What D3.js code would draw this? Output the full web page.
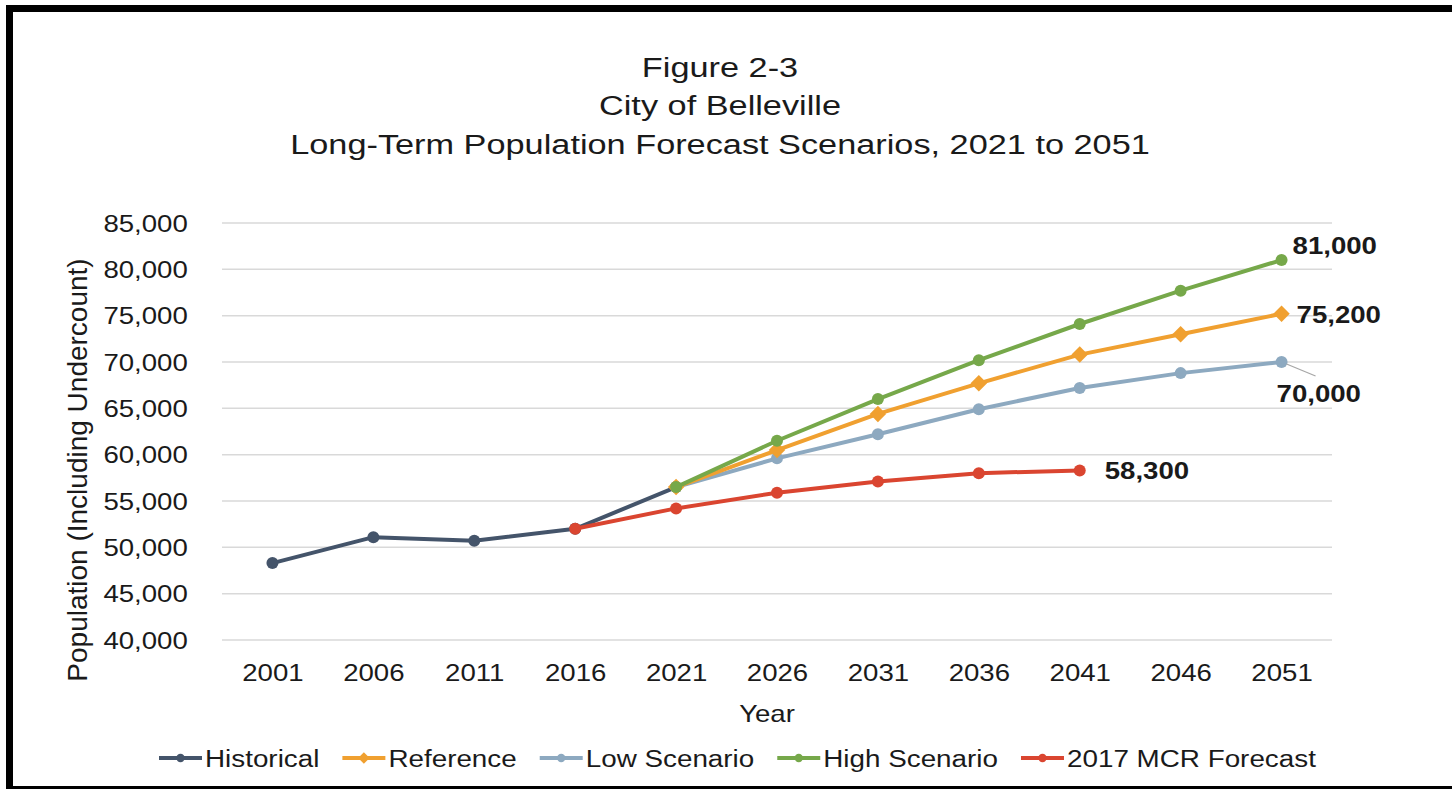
<!DOCTYPE html>
<html>
<head>
<meta charset="utf-8">
<script src="https://cdn.jsdelivr.net/npm/d3@7"></script>
<style>
  html, body { margin: 0; padding: 0; background: #fff; }
  svg { display: block; font-family: "Liberation Sans", Arial, sans-serif; }
</style>
</head>
<body>
<svg id="chart" width="1452" height="789"></svg>
<script>
// ---------------- DATA ----------------
const years = ["2001","2006","2011","2016","2021","2026","2031","2036","2041","2046","2051"];
const yTicks = [40000,45000,50000,55000,60000,65000,70000,75000,80000,85000];

const historicalYears = ["2001","2006","2011","2016","2021"];
const historicalValues = [48300, 51100, 50700, 52000, 56500];

const scenarioYears = ["2021","2026","2031","2036","2041","2046","2051"];
const referenceValues = [56500, 60500, 64400, 67700, 70800, 73000, 75200];
const lowValues       = [56500, 59600, 62200, 64900, 67200, 68800, 70000];
const highValues      = [56500, 61500, 66000, 70200, 74100, 77700, 81000];

const mcrYears  = ["2016","2021","2026","2031","2036","2041"];
const mcrValues = [52000, 54200, 55900, 57100, 58000, 58300];

const seriesNames = ["Historical","Reference","Low Scenario","High Scenario","2017 MCR Forecast"];
const titleLines = ["Figure 2-3","City of Belleville","Long-Term Population Forecast Scenarios, 2021 to 2051"];

// ---------------- SETUP ----------------
const SX = 1.2; // horizontal stretch of the reference's lettering
const svg = d3.select("#chart");
const fmt = d3.format(",");

const x = d3.scalePoint().domain(years).range([222, 1332]).padding(0.5);
const y = d3.scaleLinear().domain([40000, 85000]).range([640, 223]);

const colors = {
  "Historical": "#44546A",
  "Reference": "#F0A030",
  "Low Scenario": "#8DA9C0",
  "High Scenario": "#76A84A",
  "2017 MCR Forecast": "#DA4530"
};
const shapes = {
  "Historical": "circle", "Reference": "diamond", "Low Scenario": "circle",
  "High Scenario": "circle", "2017 MCR Forecast": "circle"
};

function stext(g, tx, ty, str, opts) {
  opts = opts || {};
  const t = g.append("text")
    .attr("transform", `translate(${tx},${ty}) scale(${opts.sx || SX},1)`)
    .attr("text-anchor", opts.anchor || "start")
    .attr("font-size", opts.size || 23)
    .attr("font-weight", opts.weight || "normal")
    .attr("fill", opts.fill || "#1a1a1a")
    .text(str);
  return t;
}

// Frame
svg.append("rect").attr("x", 6).attr("y", 5).attr("width", 7).attr("height", 784).attr("fill", "#000");
svg.append("rect").attr("x", 6).attr("y", 5).attr("width", 1446).attr("height", 7).attr("fill", "#000");
svg.append("rect").attr("x", 6).attr("y", 786).attr("width", 1446).attr("height", 3).attr("fill", "#000");

// Title
const titleY = [77, 115, 154];
titleLines.forEach((s, i) => stext(svg, 720, titleY[i], s, {anchor: "middle", size: 28, sx: 1.225}));

// Gridlines
svg.append("g").selectAll("line").data(yTicks).join("line")
  .attr("x1", 222).attr("x2", 1332)
  .attr("y1", d => y(d)).attr("y2", d => y(d))
  .attr("stroke", "#D9D9D9").attr("stroke-width", 1.5);

// Y axis
const yAxis = svg.append("g").attr("transform", "translate(222,0)")
  .call(d3.axisLeft(y).tickValues(yTicks).tickFormat(fmt).tickSize(0).tickPadding(0));
yAxis.select(".domain").remove();
yAxis.selectAll("text")
  .attr("x", -28.5).attr("dy", "0.35em")
  .attr("font-size", 23).attr("font-family", "Liberation Sans, Arial, sans-serif")
  .attr("fill", "#1a1a1a")
  .attr("transform", `scale(${SX},1)`);

// X axis
const xAxis = svg.append("g").attr("transform", "translate(0,640)")
  .call(d3.axisBottom(x).tickSize(0).tickPadding(0));
xAxis.select(".domain").remove();
xAxis.selectAll("text")
  .attr("y", 41).attr("dy", 0)
  .attr("font-size", 23).attr("font-family", "Liberation Sans, Arial, sans-serif")
  .attr("fill", "#1a1a1a")
  .attr("transform", `scale(${SX},1)`)
  .each(function(d){ d3.select(this).attr("x", 0); });

// Axis titles
stext(svg, 767, 722, "Year", {anchor: "middle", size: 23});
svg.append("text")
  .attr("transform", "translate(87,470) rotate(-90)")
  .attr("text-anchor", "middle").attr("font-size", 28).attr("fill", "#1a1a1a")
  .text("Population (Including Undercount)");

// Series
const line = d3.line().x(d => x(d[0])).y(d => y(d[1]));
const series = [
  {name: "Historical", years: historicalYears, values: historicalValues},
  {name: "Low Scenario", years: scenarioYears, values: lowValues},
  {name: "Reference", years: scenarioYears, values: referenceValues},
  {name: "High Scenario", years: scenarioYears, values: highValues},
  {name: "2017 MCR Forecast", years: mcrYears, values: mcrValues}
];

function drawMarker(g, shape, cx, cy, color, r) {
  if (shape === "diamond") {
    g.append("path").attr("d", d3.symbol().type(d3.symbolDiamond2).size(r * r * 4.8)())
      .attr("transform", `translate(${cx},${cy})`).attr("fill", color);
  } else {
    g.append("circle").attr("cx", cx).attr("cy", cy).attr("r", r).attr("fill", color);
  }
}

series.forEach(s => {
  const pts = s.years.map((yr, i) => [yr, s.values[i]]);
  const g = svg.append("g");
  g.append("path").attr("d", line(pts)).attr("fill", "none")
    .attr("stroke", colors[s.name]).attr("stroke-width", 4).attr("stroke-linejoin", "round");
  pts.forEach(p => drawMarker(g, shapes[s.name], x(p[0]), y(p[1]), colors[s.name], 6));
});

// Data labels
const lab = svg.append("g");
stext(lab, x("2051") + 11, y(81000) - 6, fmt(81000), {size: 23, weight: "bold"});
stext(lab, x("2051") + 15, y(75200) + 9, fmt(75200), {size: 23, weight: "bold"});
lab.append("line").attr("x1", x("2051") + 5).attr("y1", y(70000) + 2)
  .attr("x2", x("2051") + 34).attr("y2", y(70000) + 14)
  .attr("stroke", "#A6A6A6").attr("stroke-width", 1.2);
stext(lab, x("2051") - 5, y(70000) + 40, fmt(70000), {size: 23, weight: "bold"});
stext(lab, x("2041") + 25, y(58300) + 9, fmt(58300), {size: 23, weight: "bold"});

// Legend
const leg = svg.append("g");
let lx = 159;
const ly = 758;
seriesNames.forEach(n => {
  leg.append("line").attr("x1", lx).attr("x2", lx + 43).attr("y1", ly).attr("y2", ly)
    .attr("stroke", colors[n]).attr("stroke-width", 4);
  drawMarker(leg, shapes[n], lx + 21.5, ly, colors[n], 4.2);
  const t = stext(leg, lx + 46, ly + 9, n, {size: 23, sx: 1.21});
  const w = t.node().getComputedTextLength() * 1.21;
  lx = lx + 46 + w + 23;
});
</script>
</body>
</html>
